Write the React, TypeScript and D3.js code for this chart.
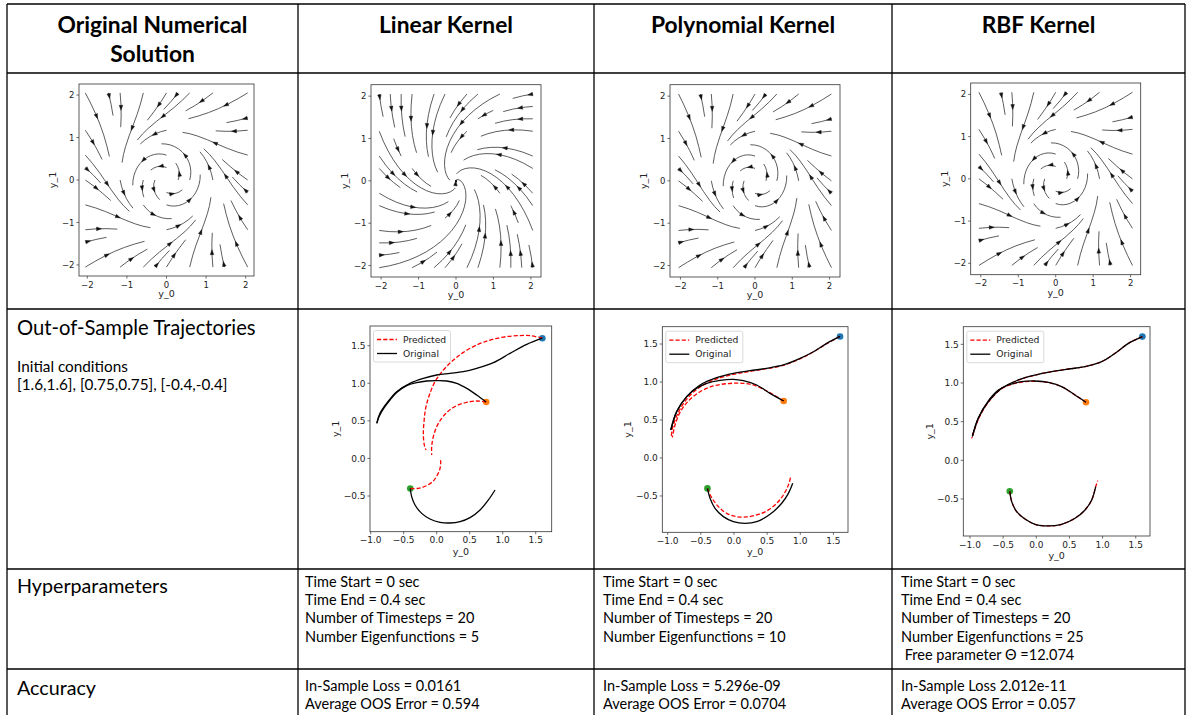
import React, { useMemo } from 'react';
import * as d3 from 'd3';

type Pt = [number, number];

// ---------- table text ----------
const columnTitles = [['Original Numerical', 'Solution'], ['Linear Kernel'], ['Polynomial Kernel'], ['RBF Kernel']];
const rowTitles = ['Out-of-Sample Trajectories', 'Hyperparameters', 'Accuracy'];
const initialConditionNotes = ['Initial conditions', '[1.6,1.6], [0.75,0.75], [-0.4,-0.4]'];

const hyperLinear = ['Time Start = 0 sec', 'Time End = 0.4 sec', 'Number of Timesteps = 20', 'Number Eigenfunctions = 5'];
const hyperPoly = ['Time Start = 0 sec', 'Time End = 0.4 sec', 'Number of Timesteps = 20', 'Number Eigenfunctions = 10'];
const hyperRbf = ['Time Start = 0 sec', 'Time End = 0.4 sec', 'Number of Timesteps = 20', 'Number Eigenfunctions = 25', ' Free parameter \u0398 =12.074'];
const accuracyLinear = ['In-Sample Loss = 0.0161', 'Average OOS Error = 0.594'];
const accuracyPoly = ['In-Sample Loss = 5.296e-09', 'Average OOS Error = 0.0704'];
const accuracyRbf = ['In-Sample Loss 2.012e-11', 'Average OOS Error = 0.057'];

// ---------- vector fields for the stream plots ----------
// coefficients: [growth, rotation, cubic damping]
const streamGrid: Pt = [-2.05, 2.05];
const fieldOriginal = [1, 2, 1];
const fieldLinear = [-1.3, 1, 0];
const fieldPolynomial = [1, 2, 1];
const fieldRbf = [1, 2, 1];
// stream plot settings: [density, max length, direction]
const streamCycleSettings: [number, number, string] = [0.5, 0.45, 'forward'];
const streamSpiralSettings: [number, number, string] = [0.5, 4, 'both'];

// ---------- ticks ----------
const streamTicks = [-2, -1, 0, 1, 2];
const trajXTicks = [-1.0, -0.5, 0.0, 0.5, 1.0, 1.5];
const trajYTicks = [-0.5, 0.0, 0.5, 1.0, 1.5];

// ---------- out-of-sample trajectories ----------
const initialPoints: Pt[] = [[1.6, 1.6], [0.75, 0.75], [-0.4, -0.4]];
const pointColors = ['#1f77b4', '#ff7f0e', '#2ca02c'];

const linOrig1: Pt[] = [[1.6, 1.6], [1.364, 1.518], [1.111, 1.398], [0.859, 1.274], [0.606, 1.198], [0.404, 1.154], [0.202, 1.132], [0.0, 1.11], [-0.202, 1.065], [-0.404, 0.999], [-0.606, 0.888], [-0.758, 0.733], [-0.859, 0.6], [-0.909, 0.467]];
const linOrig2: Pt[] = [[0.75, 0.75], [0.606, 0.844], [0.455, 0.932], [0.303, 0.999], [0.152, 1.03], [0.0, 1.034], [-0.152, 1.03], [-0.303, 1.008], [-0.455, 0.968], [-0.606, 0.876], [-0.707, 0.777], [-0.8, 0.67], [-0.87, 0.56], [-0.905, 0.47]];
const linOrig3: Pt[] = [[-0.4, -0.4], [-0.379, -0.509], [-0.328, -0.62], [-0.227, -0.731], [-0.101, -0.806], [0.051, -0.85], [0.202, -0.859], [0.354, -0.841], [0.505, -0.788], [0.657, -0.686], [0.783, -0.553], [0.884, -0.42]];
const linPred1: Pt[] = [[1.6, 1.6], [1.414, 1.633], [1.212, 1.633], [1.01, 1.615], [0.808, 1.575], [0.606, 1.509], [0.404, 1.411], [0.253, 1.309], [0.101, 1.176], [-0.025, 1.021], [-0.111, 0.844], [-0.167, 0.666], [-0.192, 0.489], [-0.202, 0.312], [-0.187, 0.178], [-0.162, 0.112]];
const linPred2: Pt[] = [[0.75, 0.75], [0.606, 0.764], [0.455, 0.746], [0.303, 0.702], [0.177, 0.631], [0.076, 0.533], [0.0, 0.422], [-0.051, 0.289], [-0.076, 0.156], [-0.076, 0.045]];
const linPred3: Pt[] = [[-0.4, -0.4], [-0.278, -0.398], [-0.152, -0.362], [-0.051, -0.3], [0.01, -0.221], [0.051, -0.132], [0.061, -0.043], [0.051, -0.008]];

const polyOrig1: Pt[] = [[1.6, 1.6], [1.399, 1.509], [1.198, 1.399], [0.997, 1.311], [0.745, 1.224], [0.494, 1.18], [0.242, 1.149], [-0.009, 1.114], [-0.261, 1.057], [-0.512, 0.961], [-0.713, 0.807], [-0.864, 0.61], [-0.955, 0.368]];
const polyOrig2: Pt[] = [[0.75, 0.75], [0.544, 0.851], [0.343, 0.961], [0.142, 1.018], [-0.009, 1.035], [-0.21, 1.022], [-0.411, 0.982], [-0.562, 0.917], [-0.713, 0.807], [-0.864, 0.61], [-0.95, 0.37]];
const polyOrig3: Pt[] = [[-0.4, -0.4], [-0.361, -0.531], [-0.286, -0.662], [-0.16, -0.772], [-0.009, -0.838], [0.167, -0.86], [0.343, -0.838], [0.544, -0.741], [0.72, -0.596], [0.821, -0.465], [0.886, -0.333]];
const polyPred1: Pt[] = [[1.6, 1.6], [1.399, 1.505], [1.198, 1.395], [0.997, 1.305], [0.745, 1.22], [0.494, 1.175], [0.242, 1.14], [-0.009, 1.1], [-0.261, 1.04], [-0.512, 0.935], [-0.713, 0.775], [-0.85, 0.58], [-0.925, 0.4], [-0.945, 0.29]];
const polyPred2: Pt[] = [[0.75, 0.75], [0.494, 0.882], [0.293, 0.961], [0.092, 0.985], [-0.11, 0.978], [-0.311, 0.948], [-0.512, 0.872], [-0.688, 0.75], [-0.814, 0.6], [-0.889, 0.434], [-0.93, 0.27]];
const polyPred3: Pt[] = [[-0.4, -0.4], [-0.336, -0.522], [-0.235, -0.64], [-0.11, -0.728], [0.041, -0.772], [0.192, -0.776], [0.343, -0.75], [0.494, -0.697], [0.645, -0.596], [0.745, -0.487], [0.821, -0.355], [0.856, -0.246]];

const rbfOrig1: Pt[] = [[1.6, 1.6], [1.389, 1.513], [1.188, 1.384], [0.987, 1.276], [0.735, 1.211], [0.484, 1.181], [0.232, 1.147], [-0.019, 1.103], [-0.271, 1.039], [-0.522, 0.931], [-0.723, 0.759], [-0.874, 0.543], [-0.965, 0.306]];
const rbfOrig2: Pt[] = [[0.75, 0.75], [0.584, 0.845], [0.383, 0.953], [0.182, 1.009], [-0.019, 1.026], [-0.22, 1.017], [-0.422, 0.974], [-0.572, 0.909], [-0.723, 0.77], [-0.874, 0.55], [-0.96, 0.32]];
const rbfOrig3: Pt[] = [[-0.4, -0.4], [-0.371, -0.534], [-0.296, -0.664], [-0.17, -0.759], [-0.019, -0.828], [0.182, -0.849], [0.383, -0.828], [0.584, -0.75], [0.735, -0.642], [0.836, -0.513], [0.896, -0.341]];
const rbfPred1: Pt[] = [[1.6, 1.6], [1.389, 1.513], [1.188, 1.384], [0.987, 1.276], [0.735, 1.211], [0.484, 1.181], [0.232, 1.147], [-0.019, 1.101], [-0.271, 1.036], [-0.522, 0.927], [-0.723, 0.752], [-0.874, 0.533], [-0.975, 0.284]];
const rbfPred2: Pt[] = [[0.75, 0.75], [0.584, 0.845], [0.383, 0.951], [0.182, 1.006], [-0.019, 1.022], [-0.22, 1.012], [-0.422, 0.968], [-0.572, 0.9], [-0.723, 0.76], [-0.874, 0.535], [-0.97, 0.29]];
const rbfPred3: Pt[] = [[-0.4, -0.4], [-0.371, -0.534], [-0.296, -0.664], [-0.17, -0.759], [-0.019, -0.828], [0.182, -0.849], [0.383, -0.828], [0.584, -0.75], [0.735, -0.642], [0.836, -0.513], [0.896, -0.341], [0.927, -0.263]];

// ---------- layout ----------
const colEdges = [7, 298, 594, 892, 1185];
const rowEdges = [4, 73, 309, 569, 669];
const tableBottom = 715;

const uiFont = 'Lato, Carlito, Calibri, "Open Sans", sans-serif';
const plotFont = '"DejaVu Sans", Verdana, sans-serif';
const minus = (s: string) => s.replace('-', '\u2212');

// ---------- stream plot integration (mask-based seeding, adaptive RK12) ----------
function hopfField(c: number[]) {
  const [mu, w, k] = c;
  return (x: number, y: number): Pt => {
    const r2 = x * x + y * y;
    return [mu * x - w * y - k * x * r2, w * x + mu * y - k * y * r2];
  };
}

function* startingPoints(n: number): Generator<Pt> {
  let xfirst = 0, yfirst = 1, xlast = n - 1, ylast = n - 1, x = 0, y = 0, dir = 0;
  for (let i = 0; i < n * n; i++) {
    yield [x, y];
    if (dir === 0) { x++; if (x >= xlast) { xlast--; dir = 1; } }
    else if (dir === 1) { y++; if (y >= ylast) { ylast--; dir = 2; } }
    else if (dir === 2) { x--; if (x <= xfirst) { xfirst++; dir = 3; } }
    else { y--; if (y <= yfirst) { yfirst++; dir = 0; } }
  }
}

interface Stream { pts: Pt[]; tail: Pt; head: Pt; }

function computeStreams(field: (x: number, y: number) => Pt, range: Pt, settings: [number, number, string]): Stream[] {
  const [density, maxlength, direction] = settings;
  const NG = 101;
  const nm = Math.floor(30 * density);
  const mask = new Uint8Array(nm * nm);
  const g2m = (nm - 1) / (NG - 1);
  const step = (range[1] - range[0]) / (NG - 1);
  let traj: number[] = [];
  let cur = -1;
  const within = (x: number, y: number) => x >= 0 && x <= NG - 1 && y >= 0 && y <= NG - 1;
  const cell = (xg: number, yg: number) => Math.floor(yg * g2m + 0.5) * nm + Math.floor(xg * g2m + 0.5);
  const update = (xg: number, yg: number) => {
    if (!within(xg, yg)) return false;
    const c = cell(xg, yg);
    if (c !== cur) {
      if (mask[c] === 0) { traj.push(c); mask[c] = 1; cur = c; }
      else return false;
    }
    return true;
  };
  const OOB = 1, TERM = 2;
  const vel = (xg: number, yg: number, sign: number): Pt | number => {
    if (!within(xg, yg)) return OOB;
    const [u, v] = field(range[0] + xg * step, range[0] + yg * step);
    const ug = u / step, vg = v / step;
    const sp = Math.hypot(ug, vg) / (NG - 1);
    if (sp === 0) return TERM;
    return [sign * ug / sp, sign * vg / sp];
  };
  const maxds = Math.min(1 / nm, 0.1), maxerror = 0.003;
  const rk12 = (x0: number, y0: number, sign: number): [number, Pt[]] => {
    let ds = maxds, stotal = 0, xi = x0, yi = y0;
    const pts: Pt[] = [];
    for (let guard = 0; guard < 20000; guard++) {
      let oob = false;
      let k1: any = null, k2: any = null;
      if (within(xi, yi)) pts.push([xi, yi]); else oob = true;
      if (!oob) {
        k1 = vel(xi, yi, sign);
        if (k1 === TERM) break;
        if (k1 === OOB) oob = true;
        else {
          k2 = vel(xi + ds * k1[0], yi + ds * k1[1], sign);
          if (k2 === TERM) break;
          if (k2 === OOB) oob = true;
        }
      }
      if (oob) {
        if (pts.length) {
          const [lx, ly] = pts[pts.length - 1];
          const c = vel(lx, ly, sign);
          if (typeof c !== 'number') {
            const dsx = c[0] === 0 ? Infinity : c[0] < 0 ? lx / -c[0] : (NG - 1 - lx) / c[0];
            const dsy = c[1] === 0 ? Infinity : c[1] < 0 ? ly / -c[1] : (NG - 1 - ly) / c[1];
            const d = Math.min(dsx, dsy);
            pts.push([lx + c[0] * d, ly + c[1] * d]);
            stotal += d;
          }
        }
        break;
      }
      const dx1 = ds * k1[0], dy1 = ds * k1[1];
      const dx2 = ds * 0.5 * (k1[0] + k2[0]), dy2 = ds * 0.5 * (k1[1] + k2[1]);
      const err = Math.hypot((dx2 - dx1) / (NG - 1), (dy2 - dy1) / (NG - 1));
      if (err < maxerror) {
        xi += dx2; yi += dy2;
        if (!update(xi, yi)) break;
        if (stotal + ds > maxlength) break;
        stotal += ds;
      }
      ds = err === 0 ? maxds : Math.min(maxds, 0.85 * ds * Math.sqrt(maxerror / err));
    }
    return [stotal, pts];
  };

  const out: Stream[] = [];
  for (const [xm, ym] of startingPoints(nm)) {
    if (mask[ym * nm + xm] !== 0) continue;
    const xg = Math.min(NG - 1, xm / g2m), yg = Math.min(NG - 1, ym / g2m);
    traj = []; cur = -1;
    update(xg, yg);
    let sb = 0, sf = 0;
    let pb: Pt[] = [[xg, yg]], pf: Pt[] = [[xg, yg]];
    if (direction !== 'forward') [sb, pb] = rk12(xg, yg, -1);
    cur = cell(xg, yg);
    if (direction !== 'backward') [sf, pf] = rk12(xg, yg, 1);
    if (sb + sf > 0.1) {
      const g = [...pb.reverse(), ...pf.slice(1)];
      const pts: Pt[] = g.map(([a, b]) => [range[0] + a * step, range[0] + b * step]);
      if (pts.length < 2) continue;
      const cum: number[] = [];
      let acc = 0;
      for (let i = 1; i < pts.length; i++) {
        acc += Math.hypot(pts[i][0] - pts[i - 1][0], pts[i][1] - pts[i - 1][1]);
        cum.push(acc);
      }
      let n = d3.bisectLeft(cum, acc / 2);
      n = Math.min(n, pts.length - 2);
      const tail = pts[n];
      const head: Pt = [(pts[n][0] + pts[n + 1][0]) / 2, (pts[n][1] + pts[n + 1][1]) / 2];
      out.push({ pts, tail, head });
    } else {
      for (const c of traj) mask[c] = 0;
    }
  }
  return out;
}

// ---------- generic axes frame ----------
interface Box { x0: number; x1: number; y0: number; y1: number; }

function Frame({ box, xs, ys, xticks, yticks, fmt, fs }: any) {
  return (
    <g>
      <rect x={box.x0} y={box.y0} width={box.x1 - box.x0} height={box.y1 - box.y0} fill="none" stroke="#333" strokeWidth={0.8} />
      {xticks.map((t: number) => (
        <g key={'x' + t}>
          <line x1={xs(t)} x2={xs(t)} y1={box.y1} y2={box.y1 + 2.6} stroke="#333" strokeWidth={0.7} />
          <text x={xs(t)} y={box.y1 + 11.5} textAnchor="middle" fontSize={fs} fontFamily={plotFont} fill="#222">{fmt(t)}</text>
        </g>
      ))}
      {yticks.map((t: number) => (
        <g key={'y' + t}>
          <line x1={box.x0 - 2.6} x2={box.x0} y1={ys(t)} y2={ys(t)} stroke="#333" strokeWidth={0.7} />
          <text x={box.x0 - 4.5} y={ys(t) + fs * 0.36} textAnchor="end" fontSize={fs} fontFamily={plotFont} fill="#222">{fmt(t)}</text>
        </g>
      ))}
    </g>
  );
}

function StreamPanel({ box, xlim, ylim, coeffs, settings, yLabelX }: { box: Box; xlim: Pt; ylim: Pt; coeffs: number[]; settings: [number, number, string]; yLabelX: number }) {
  const xs = d3.scaleLinear().domain(xlim).range([box.x0, box.x1]);
  const ys = d3.scaleLinear().domain(ylim).range([box.y1, box.y0]);
  const streams = useMemo(() => computeStreams(hopfField(coeffs), streamGrid, settings), [coeffs, settings]);
  const line = d3.line<Pt>().x(d => xs(d[0])).y(d => ys(d[1]));
  const arrow = (s: Stream) => {
    const tx = xs(s.tail[0]), ty = ys(s.tail[1]);
    const hx = xs(s.head[0]), hy = ys(s.head[1]);
    let dx = hx - tx, dy = hy - ty;
    const L = Math.hypot(dx, dy) || 1;
    dx /= L; dy /= L;
    const len = 5, hw = 1.8;
    const bx = hx - dx * len, by = hy - dy * len;
    return `M${hx},${hy}L${bx - dy * hw},${by + dx * hw}L${bx + dy * hw},${by - dx * hw}Z`;
  };
  const fmt = (t: number) => minus(String(t));
  return (
    <g>
      <rect x={box.x0} y={box.y0} width={box.x1 - box.x0} height={box.y1 - box.y0} fill="#fff" />
      {streams.map((s, i) => (
        <path key={i} d={line(s.pts) || ''} fill="none" stroke="#333" strokeWidth={0.8} strokeLinejoin="round" />
      ))}
      {streams.map((s, i) => (
        <path key={'a' + i} d={arrow(s)} fill="#111" stroke="#111" strokeWidth={0.4} />
      ))}
      <Frame box={box} xs={xs} ys={ys} xticks={streamTicks} yticks={streamTicks} fmt={fmt} fs={8.5} />
      <text x={(box.x0 + box.x1) / 2} y={box.y1 + 21} textAnchor="middle" fontSize={9.5} fontFamily={plotFont} fill="#222">y_0</text>
      <text transform={`translate(${yLabelX},${(box.y0 + box.y1) / 2}) rotate(-90)`} textAnchor="middle" fontSize={9.5} fontFamily={plotFont} fill="#222">y_1</text>
    </g>
  );
}

function TrajPanel({ box, xlim, ylim, orig, pred, yLabelX }: { box: Box; xlim: Pt; ylim: Pt; orig: Pt[][]; pred: Pt[][]; yLabelX: number }) {
  const xs = d3.scaleLinear().domain(xlim).range([box.x0, box.x1]);
  const ys = d3.scaleLinear().domain(ylim).range([box.y1, box.y0]);
  const line = d3.line<Pt>().x(d => xs(d[0])).y(d => ys(d[1])).curve(d3.curveCatmullRom.alpha(0.5));
  const fmt = (t: number) => minus(t.toFixed(1));
  const lx = box.x0 + 3.5, ly = box.y0 + 4.5;
  return (
    <g>
      {initialPoints.map((p, i) => (
        <circle key={'p' + i} cx={xs(p[0])} cy={ys(p[1])} r={3.3} fill={pointColors[i]} />
      ))}
      {pred.map((p, i) => (
        <path key={'r' + i} d={line(p) || ''} fill="none" stroke="#ff0000" strokeWidth={1.3} strokeDasharray="4.2,2" />
      ))}
      {orig.map((p, i) => (
        <path key={'k' + i} d={line(p) || ''} fill="none" stroke="#000" strokeWidth={1.3} />
      ))}
      <Frame box={box} xs={xs} ys={ys} xticks={trajXTicks} yticks={trajYTicks} fmt={fmt} fs={9} />
      <text x={(box.x0 + box.x1) / 2} y={box.y1 + 23} textAnchor="middle" fontSize={9.5} fontFamily={plotFont} fill="#222">y_0</text>
      <text transform={`translate(${yLabelX},${(box.y0 + box.y1) / 2}) rotate(-90)`} textAnchor="middle" fontSize={9.5} fontFamily={plotFont} fill="#222">y_1</text>
      <g>
        <rect x={lx} y={ly} width={77} height={31.5} rx={2} fill="#fff" fillOpacity={0.8} stroke="#d0d0d0" strokeWidth={0.8} />
        <line x1={lx + 3.5} x2={lx + 23.5} y1={ly + 9} y2={ly + 9} stroke="#ff0000" strokeWidth={1.3} strokeDasharray="4.2,2" />
        <text x={lx + 29.5} y={ly + 12.2} fontSize={9.2} fontFamily={plotFont} fill="#222">Predicted</text>
        <line x1={lx + 3.5} x2={lx + 23.5} y1={ly + 23} y2={ly + 23} stroke="#000" strokeWidth={1.3} />
        <text x={lx + 29.5} y={ly + 26.2} fontSize={9.2} fontFamily={plotFont} fill="#222">Original</text>
      </g>
    </g>
  );
}

function CellLines({ x, y, lines, gap, size }: { x: number; y: number; lines: string[]; gap: number; size: number }) {
  return (
    <g>
      {lines.map((t, i) => (
        <text key={i} x={x} y={y + i * gap} fontSize={size} fontFamily={uiFont} fill="#000" style={{ whiteSpace: 'pre' }}>{t}</text>
      ))}
    </g>
  );
}

export default function App() {
  const W = 1187, H = 715;
  const centers = colEdges.slice(0, 4).map((e, i) => (e + colEdges[i + 1]) / 2);
  return (
    <svg width={W} height={H} viewBox={`0 0 ${W} ${H}`} style={{ position: 'absolute', left: 0, top: 0, background: '#fff' }}>
      <rect x={0} y={0} width={W} height={H} fill="#fff" />

      {/* header */}
      {columnTitles.map((lines, i) => (
        <g key={i}>
          {lines.map((t, j) => (
            <text key={j} x={centers[i]} y={32.5 + j * 29} textAnchor="middle" fontSize={22.8} fontWeight={700} fontFamily={uiFont} fill="#000">{t}</text>
          ))}
        </g>
      ))}

      {/* stream plots */}
      <StreamPanel box={{ x0: 79, x1: 254, y0: 84, y1: 276 }} xlim={[-2.21, 2.21]} ylim={[-2.26, 2.26]} coeffs={fieldOriginal} settings={streamCycleSettings} yLabelX={56} />
      <StreamPanel box={{ x0: 371, x1: 541, y0: 84.7, y1: 277 }} xlim={[-2.27, 2.27]} ylim={[-2.27, 2.27]} coeffs={fieldLinear} settings={streamSpiralSettings} yLabelX={348} />
      <StreamPanel box={{ x0: 670, x1: 840, y0: 84.7, y1: 277 }} xlim={[-2.28, 2.28]} ylim={[-2.27, 2.27]} coeffs={fieldPolynomial} settings={streamCycleSettings} yLabelX={647} />
      <StreamPanel box={{ x0: 970.7, x1: 1140.7, y0: 83, y1: 274.7 }} xlim={[-2.27, 2.27]} ylim={[-2.27, 2.27]} coeffs={fieldRbf} settings={streamCycleSettings} yLabelX={948} />

      {/* trajectory plots */}
      <TrajPanel box={{ x0: 370, x1: 551.7, y0: 326, y1: 531.7 }} xlim={[-1.01, 1.742]} ylim={[-0.975, 1.762]} orig={[linOrig1, linOrig2, linOrig3]} pred={[linPred1, linPred2, linPred3]} yLabelX={339} />
      <TrajPanel box={{ x0: 662.3, x1: 848, y0: 326.7, y1: 532.3 }} xlim={[-1.081, 1.72]} ylim={[-0.978, 1.728]} orig={[polyOrig1, polyOrig2, polyOrig3]} pred={[polyPred1, polyPred2, polyPred3]} yLabelX={631} />
      <TrajPanel box={{ x0: 963.3, x1: 1150, y0: 326.7, y1: 536 }} xlim={[-1.101, 1.715]} ylim={[-0.979, 1.728]} orig={[rbfOrig1, rbfOrig2, rbfOrig3]} pred={[rbfPred1, rbfPred2, rbfPred3]} yLabelX={933} />

      {/* row titles */}
      <text x={17} y={335} fontSize={20.2} fontFamily={uiFont} fill="#000">{rowTitles[0]}</text>
      <CellLines x={17} y={372.3} lines={initialConditionNotes} gap={18} size={15.3} />
      <text x={17} y={593.3} fontSize={19.7} fontFamily={uiFont} fill="#000">{rowTitles[1]}</text>
      <text x={17} y={695} fontSize={19.7} fontFamily={uiFont} fill="#000">{rowTitles[2]}</text>

      {/* hyperparameters and accuracy */}
      <CellLines x={305} y={587} lines={hyperLinear} gap={18.2} size={14.5} />
      <CellLines x={603} y={587} lines={hyperPoly} gap={18.2} size={14.5} />
      <CellLines x={901} y={587} lines={hyperRbf} gap={18.2} size={14.5} />
      <CellLines x={305} y={691} lines={accuracyLinear} gap={18.2} size={14.5} />
      <CellLines x={603} y={691} lines={accuracyPoly} gap={18.2} size={14.5} />
      <CellLines x={901} y={691} lines={accuracyRbf} gap={18.2} size={14.5} />

      {/* table rules */}
      {rowEdges.map((y, i) => (
        <line key={'h' + i} x1={colEdges[0]} x2={colEdges[4]} y1={y} y2={y} stroke="#000" strokeWidth={1.3} />
      ))}
      {colEdges.map((x, i) => (
        <line key={'v' + i} x1={x} x2={x} y1={rowEdges[0]} y2={tableBottom} stroke="#000" strokeWidth={1.3} />
      ))}
    </svg>
  );
}
